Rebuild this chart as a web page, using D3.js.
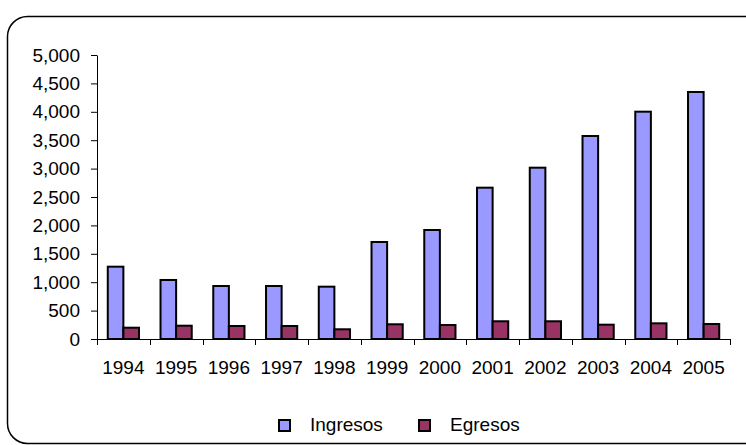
<!DOCTYPE html>
<html>
<head>
<meta charset="utf-8">
<script src="https://cdn.jsdelivr.net/npm/d3@7"></script>
<style>
  body { margin: 0; background: #fff; }
  text { font-family: "Liberation Sans", Arial, sans-serif; fill: #000; }
</style>
</head>
<body>
<div id="chart"></div>
<script>
// Data
const years = ["1994", "1995", "1996", "1997", "1998", "1999", "2000", "2001", "2002", "2003", "2004", "2005"];
const ingresos = [1273, 1039, 933, 933, 921, 1708, 1919, 2664, 3016, 3574, 4002, 4349];
const egresos = [199, 234, 229, 229, 171, 259, 246, 312, 312, 252, 276, 264];
const seriesNames = ["Ingresos", "Egresos"];
const seriesColors = ["#9999FF", "#993366"];
const yTicks = [0, 500, 1000, 1500, 2000, 2500, 3000, 3500, 4000, 4500, 5000];

const W = 746, H = 445;
const plot = { left: 97, right: 730, top: 55, bottom: 339 };
const fontSize = "19px";

const svg = d3.select("#chart").append("svg")
    .attr("width", W)
    .attr("height", H);

// Rounded frame
svg.append("rect")
    .attr("x", 7.5).attr("y", 16.5)
    .attr("width", 760).attr("height", 427)
    .attr("rx", 20).attr("ry", 20)
    .attr("fill", "#fff")
    .attr("stroke", "#000")
    .attr("stroke-width", 1.5);

// Scales
const x = d3.scaleBand()
    .domain(years)
    .range([plot.left, plot.right])
    .padding(0);

const x1 = d3.scaleBand()
    .domain(seriesNames)
    .range([0, x.bandwidth()])
    .paddingInner(0)
    .paddingOuter(0.69);

const y = d3.scaleLinear()
    .domain([0, 5000])
    .range([plot.bottom, plot.top]);

// Y axis
const yAxis = svg.append("g")
    .attr("transform", `translate(${plot.left},0)`)
    .call(d3.axisLeft(y).tickValues(yTicks).tickFormat(d3.format(",")).tickSize(6).tickSizeOuter(0).tickPadding(11));
yAxis.select(".domain").attr("stroke", "#000");
yAxis.selectAll(".tick line").attr("stroke", "#000");
yAxis.selectAll("text").style("font-size", fontSize);

// Bars
const rows = years.map((yr, i) => ({ year: yr, values: [ingresos[i], egresos[i]] }));
const groups = svg.selectAll(".year")
    .data(rows)
    .join("g")
    .attr("class", "year")
    .attr("transform", d => `translate(${x(d.year)},0)`);

groups.selectAll("rect")
    .data(d => d.values.map((v, j) => ({ key: seriesNames[j], value: v, color: seriesColors[j] })))
    .join("rect")
    .attr("x", d => x1(d.key))
    .attr("y", d => y(d.value))
    .attr("width", x1.bandwidth())
    .attr("height", d => y(0) - y(d.value))
    .attr("fill", d => d.color)
    .attr("stroke", "#000")
    .attr("stroke-width", 2);

// X axis (ticks between categories)
const xAxis = svg.append("g")
    .attr("transform", `translate(0,${plot.bottom})`)
    .call(d3.axisBottom(x).tickSize(0).tickPadding(22));
xAxis.select(".domain").attr("stroke", "#000");
xAxis.selectAll("text").style("font-size", fontSize);

const boundaries = years.map(yr => x(yr)).concat([plot.right]);
svg.selectAll(".xtick")
    .data(boundaries)
    .join("line")
    .attr("class", "xtick")
    .attr("x1", d => Math.round(d) + 0.5)
    .attr("x2", d => Math.round(d) + 0.5)
    .attr("y1", plot.bottom)
    .attr("y2", plot.bottom + 6)
    .attr("stroke", "#000");

// Legend
const legendX = [279, 419];
const legend = svg.selectAll(".legend")
    .data(seriesNames)
    .join("g")
    .attr("class", "legend")
    .attr("transform", (d, i) => `translate(${legendX[i]},420)`);

legend.append("rect")
    .attr("width", 11).attr("height", 11)
    .attr("fill", (d, i) => seriesColors[i])
    .attr("stroke", "#000")
    .attr("stroke-width", 2);

legend.append("text")
    .attr("x", 31)
    .attr("y", 11)
    .style("font-size", fontSize)
    .text(d => d);
</script>
</body>
</html>
